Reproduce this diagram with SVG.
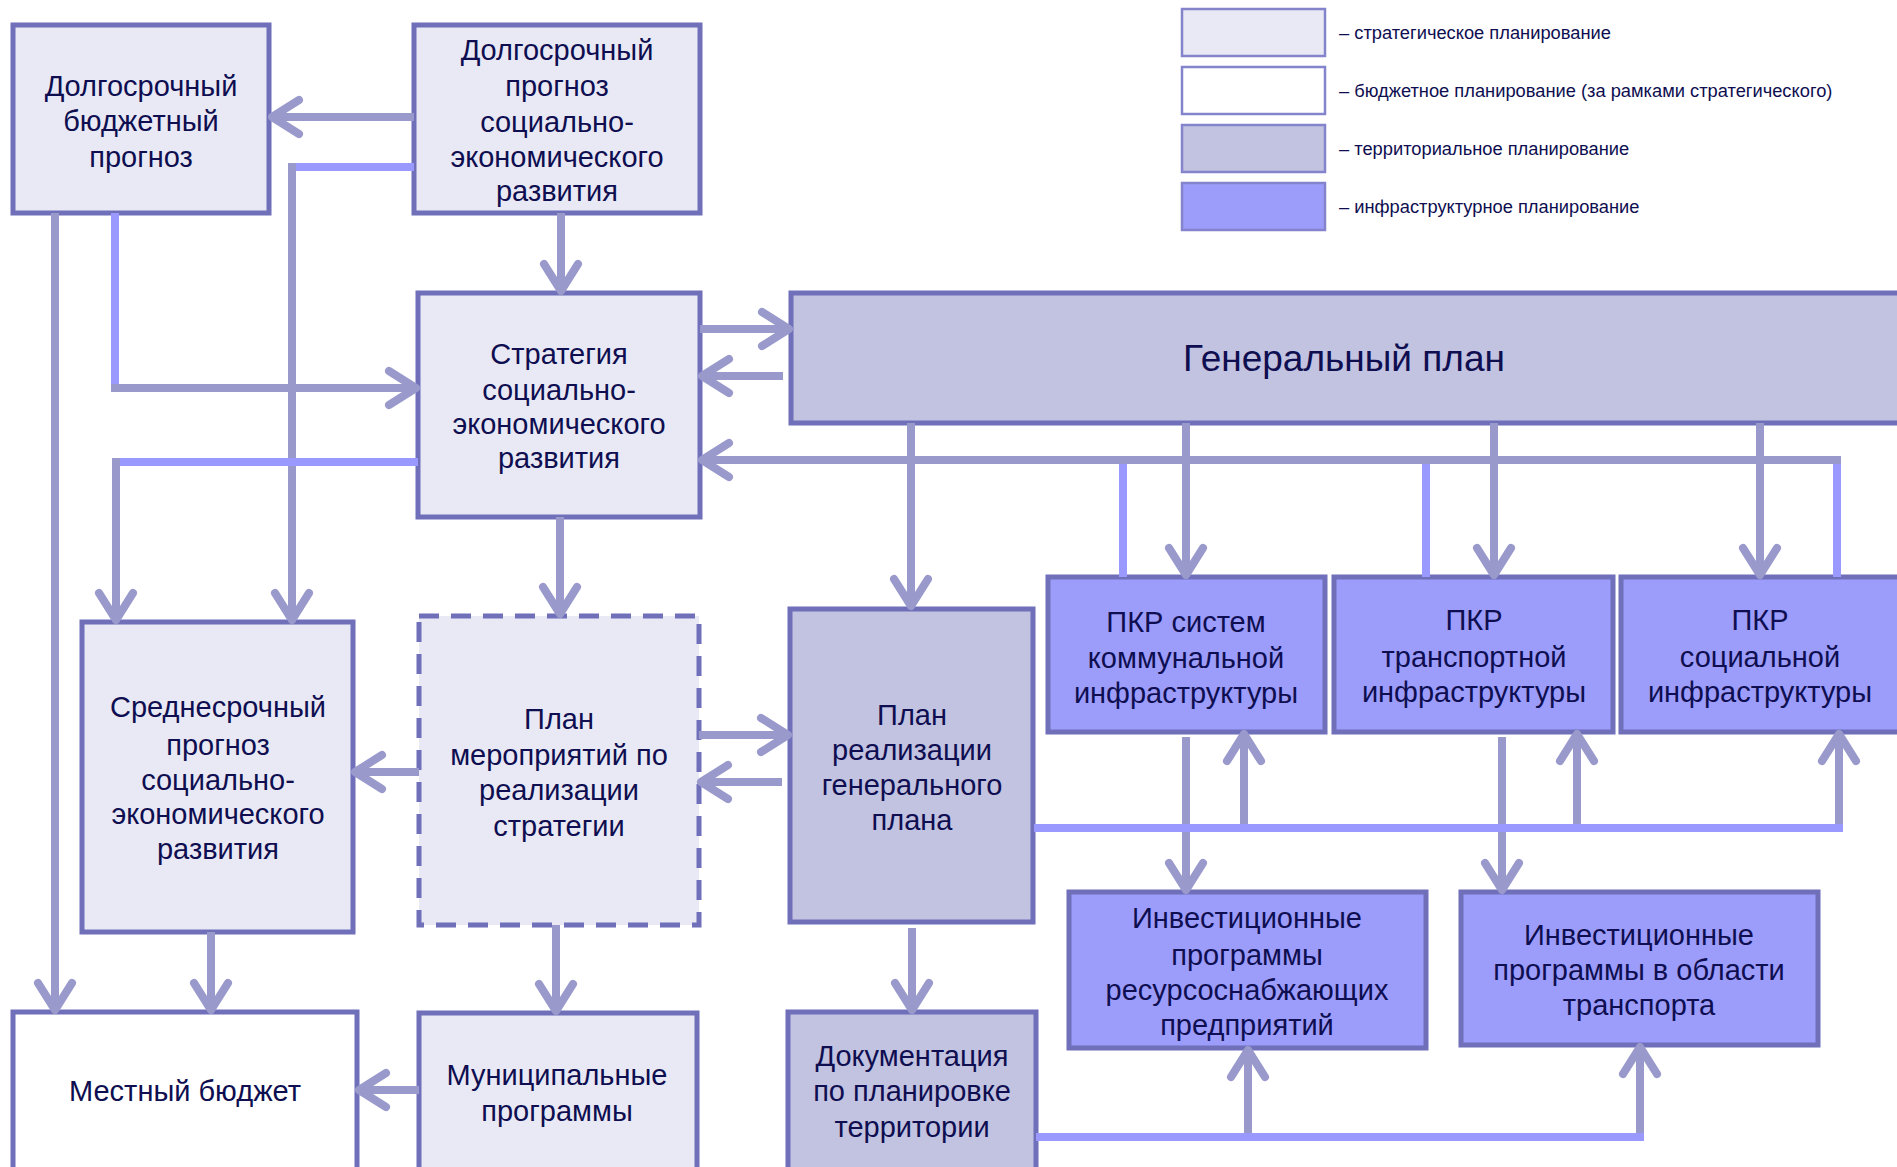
<svg xmlns="http://www.w3.org/2000/svg" width="1897" height="1167" viewBox="0 0 1897 1167">
<style>
.box{stroke:#6F6FBA;stroke-width:5}
.s{fill:#E9E9F5}.b{fill:#FFFFFF}.t{fill:#C2C2E1}.i{fill:#9C9CFB}
.dash{stroke-dasharray:20 12}
.c{stroke:#9999CC;stroke-width:8;fill:none}
.cb{stroke:#9999FF;stroke-width:8;fill:none}
.ar{marker-end:url(#ah)}
text{font-family:"Liberation Sans",Arial,sans-serif;font-size:29px;fill:#0E0E50;text-anchor:middle}
.big{font-size:37px}
.lg{font-size:18.3px;text-anchor:start}
.lgb{stroke:#8484CC;stroke-width:2.5}
</style>
<defs>
<marker id="ah" markerUnits="userSpaceOnUse" markerWidth="44" markerHeight="44" viewBox="-36 -22 44 44" refX="0" refY="0" orient="auto">
<path d="M-27,-17 L0,0 L-27,17" fill="none" stroke="#9999CC" stroke-width="8" stroke-linecap="round" stroke-linejoin="round"/>
</marker>
</defs>
<rect width="1897" height="1167" fill="#FFFFFF"/>

<g id="legend">
<rect class="lgb s" x="1182" y="9" width="143" height="47"/>
<rect class="lgb b" x="1182" y="67" width="143" height="47"/>
<rect class="lgb t" x="1182" y="125" width="143" height="47"/>
<rect class="lgb i" x="1182" y="183" width="143" height="47"/>
<text class="lg" x="1339" y="39">– стратегическое планирование</text>
<text class="lg" x="1339" y="97">– бюджетное планирование (за рамками стратегического)</text>
<text class="lg" x="1339" y="155">– территориальное планирование</text>
<text class="lg" x="1339" y="213">– инфраструктурное планирование</text>
</g>

<g id="n1"><rect class="box s" x="13" y="25" width="256" height="188"/>
<text x="141" y="96">Долгосрочный</text><text x="141" y="131">бюджетный</text><text x="141" y="167">прогноз</text></g>

<g id="n2"><rect class="box s" x="414" y="25" width="286" height="188"/>
<text x="557" y="60">Долгосрочный</text><text x="557" y="96">прогноз</text><text x="557" y="132">социально-</text><text x="557" y="167">экономического</text><text x="557" y="201">развития</text></g>

<g id="n3"><rect class="box s" x="418" y="293" width="282" height="224"/>
<text x="559" y="364">Стратегия</text><text x="559" y="400">социально-</text><text x="559" y="434">экономического</text><text x="559" y="468">развития</text></g>

<g id="n4"><rect class="box t" x="791" y="293" width="1120" height="130"/>
<text class="big" x="1344" y="371">Генеральный план</text></g>

<g id="n5"><rect class="box s" x="82" y="622" width="271" height="310"/>
<text x="218" y="717">Среднесрочный</text><text x="218" y="755">прогноз</text><text x="218" y="790">социально-</text><text x="218" y="824">экономического</text><text x="218" y="859">развития</text></g>

<g id="n6"><rect class="box s dash" x="419" y="616" width="280" height="309"/>
<text x="559" y="729">План</text><text x="559" y="765">мероприятий по</text><text x="559" y="800">реализации</text><text x="559" y="836">стратегии</text></g>

<g id="n7"><rect class="box t" x="790" y="609" width="243" height="313"/>
<text x="912" y="725">План</text><text x="912" y="760">реализации</text><text x="912" y="795">генерального</text><text x="912" y="830">плана</text></g>

<g id="n8"><rect class="box i" x="1048" y="577" width="277" height="155"/>
<text x="1186" y="632">ПКР систем</text><text x="1186" y="668">коммунальной</text><text x="1186" y="703">инфраструктуры</text></g>

<g id="n9"><rect class="box i" x="1334" y="577" width="279" height="155"/>
<text x="1474" y="630">ПКР</text><text x="1474" y="667">транспортной</text><text x="1474" y="702">инфраструктуры</text></g>

<g id="n10"><rect class="box i" x="1621" y="577" width="290" height="155"/>
<text x="1760" y="630">ПКР</text><text x="1760" y="667">социальной</text><text x="1760" y="702">инфраструктуры</text></g>

<g id="n11"><rect class="box i" x="1069" y="892" width="357" height="156"/>
<text x="1247" y="928">Инвестиционные</text><text x="1247" y="965">программы</text><text x="1247" y="1000">ресурсоснабжающих</text><text x="1247" y="1035">предприятий</text></g>

<g id="n12"><rect class="box i" x="1461" y="892" width="357" height="153"/>
<text x="1639" y="945">Инвестиционные</text><text x="1639" y="980">программы в области</text><text x="1639" y="1015">транспорта</text></g>

<g id="n13"><rect class="box b" x="13" y="1012" width="344" height="170"/>
<text x="185" y="1101">Местный бюджет</text></g>

<g id="n14"><rect class="box s" x="419" y="1013" width="278" height="170"/>
<text x="557" y="1085">Муниципальные</text><text x="557" y="1121">программы</text></g>

<g id="n15"><rect class="box t" x="788" y="1012" width="248" height="170"/>
<text x="912" y="1066">Документация</text><text x="912" y="1101">по планировке</text><text x="912" y="1137">территории</text></g>

<g id="connectors">
<path class="c ar" d="M414,117 H272"/>
<path class="cb" d="M414,167 H288"/>
<path class="c ar" d="M292,163 V620"/>
<path class="c ar" d="M561,213 V291"/>
<path class="cb" d="M115,213 V392"/>
<path class="c ar" d="M111,388 H416"/>
<path class="c ar" d="M55,213 V1010"/>
<path class="cb" d="M418,462 H112"/>
<path class="c ar" d="M116,458 V620"/>
<path class="c ar" d="M700,329 H789"/>
<path class="c ar" d="M783,376 H702"/>
<path class="c ar" d="M1841,460 H702"/>
<path class="cb" d="M1123,577 V464"/>
<path class="cb" d="M1426,577 V464"/>
<path class="cb" d="M1837,577 V464"/>
<path class="c ar" d="M911,423 V606"/>
<path class="c ar" d="M1186,423 V575"/>
<path class="c ar" d="M1494,423 V575"/>
<path class="c ar" d="M1760,423 V575"/>
<path class="c ar" d="M560,517 V614"/>
<path class="c ar" d="M699,735 H788"/>
<path class="c ar" d="M782,782 H701"/>
<path class="c ar" d="M419,772 H355"/>
<path class="c ar" d="M556,925 V1011"/>
<path class="c ar" d="M211,932 V1010"/>
<path class="c ar" d="M419,1090 H359"/>
<path class="c ar" d="M912,928 V1010"/>
<path class="c ar" d="M1186,737 V890"/>
<path class="c ar" d="M1502,737 V890"/>
<path class="cb" d="M1034,828 H1843"/>
<path class="c ar" d="M1244,824 V734"/>
<path class="c ar" d="M1577,824 V734"/>
<path class="c ar" d="M1839,824 V734"/>
<path class="cb" d="M1036,1137 H1644"/>
<path class="c ar" d="M1248,1133 V1050"/>
<path class="c ar" d="M1640,1133 V1047"/>
</g>
</svg>
